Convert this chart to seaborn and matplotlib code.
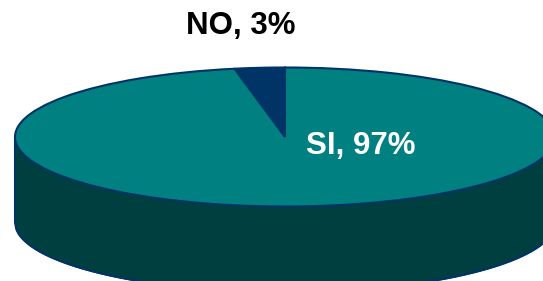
# 3D-looking pie: NO / SI
import numpy as np
import seaborn as sns
import matplotlib.pyplot as plt

labels = ["NO", "SI"]
shares = [3, 97]

top_colors = ["#003366", "#008080"]
side_color = "#003f3f"
edge_color = "#003366"

sns.set_theme(style="white")
plt.rcParams['font.family'] = ['Liberation Sans', 'DejaVu Sans']

fig = plt.figure(figsize=(5.43, 2.81), dpi=100)
ax = fig.add_axes([0, 0, 1, 1])

# side wall of the cylinder (front half only is visible)
depth = 1.23
x = np.linspace(-1, 1, 400)
lower = -np.sqrt(1 - x ** 2)
ax.fill_between(x, lower - depth, lower, color=side_color, zorder=1)
ax.plot(x, lower - depth, color=edge_color, lw=1.5, zorder=2)
ax.plot([-1, -1], [0, -depth], color=edge_color, lw=1.5, zorder=2)
ax.plot([1, 1], [0, -depth], color=edge_color, lw=1.5, zorder=2)

# top face
wedges, _ = ax.pie(shares, colors=top_colors, startangle=90, counterclock=True,
                   wedgeprops=dict(edgecolor=edge_color, linewidth=1.5))
for w in wedges:
    w.set_zorder(3)

# squash the circle into an ellipse through the axis limits
ax.set_xlim(-285 / 270, 258 / 270)
ax.set_ylim(-144 / 69.5, 137 / 69.5)
ax.set_aspect('auto')
ax.axis('off')

ax.text(-44 / 270, 111 / 69.5, f"{labels[0]}, {shares[0]}%", ha='center', va='center',
        fontsize=22.5, fontweight='bold', color='black', zorder=4)
ax.text(76 / 270, -9 / 69.5, f"{labels[1]}, {shares[1]}%", ha='center', va='center',
        fontsize=22.5, fontweight='bold', color='white', zorder=4)

fig.savefig("out.png", dpi=100)
